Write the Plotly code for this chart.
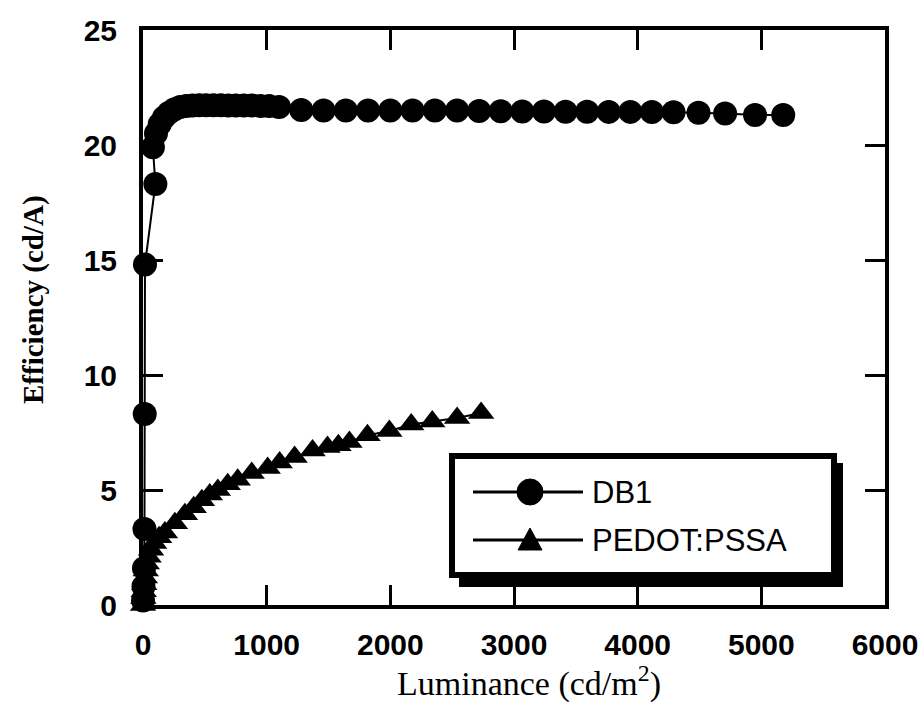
import plotly.graph_objects as go

# ---------------- data ----------------
db1_lum = [0, 4, 8, 12, 14, 16, 100, 80, 105, 135, 170, 210, 255, 300, 350, 400, 455,
           510, 570, 630, 690, 750, 815, 880, 950, 1020, 1100, 1280, 1460, 1640, 1820,
           2000, 2180, 2360, 2540, 2718, 2893, 3067, 3242, 3417, 3591, 3766, 3941, 4115,
           4290, 4492, 4707, 4949, 5177]
db1_eff = [0.2, 0.8, 1.6, 3.3, 8.3, 14.8, 18.3, 19.9, 20.5, 20.9, 21.2, 21.4, 21.55, 21.65,
           21.7, 21.72, 21.73, 21.73, 21.73, 21.73, 21.72, 21.72, 21.72, 21.72, 21.7, 21.7,
           21.65, 21.52, 21.5, 21.5, 21.5, 21.5, 21.5, 21.5, 21.5, 21.48, 21.47, 21.46,
           21.46, 21.45, 21.45, 21.44, 21.44, 21.43, 21.42, 21.4, 21.37, 21.3, 21.3]

pedot_lum = [0, 3, 6, 10, 15, 22, 30, 45, 65, 90, 130, 177, 258, 339, 410, 476, 540, 605,
             685, 766, 879, 1008, 1105, 1226, 1371, 1492, 1580, 1669, 1815, 1992, 2169,
             2339, 2540, 2734]
pedot_eff = [0.0, 0.3, 0.6, 0.9, 1.2, 1.5, 1.8, 2.1, 2.4, 2.7, 2.95, 3.15, 3.55, 3.95,
             4.25, 4.55, 4.8, 5.0, 5.25, 5.45, 5.74, 5.96, 6.2, 6.43, 6.72, 6.87, 6.95,
             7.09, 7.38, 7.57, 7.85, 7.98, 8.13, 8.35]

x_ticks = [0, 1000, 2000, 3000, 4000, 5000, 6000]
y_ticks = [0, 5, 10, 15, 20, 25]
series_names = ["DB1", "PEDOT:PSSA"]
x_title = "Luminance (cd/m<sup>2</sup>)"
y_title = "Efficiency (cd/A)"

# ---------------- figure ----------------
fig = go.Figure()
fig.add_trace(go.Scatter(
    x=db1_lum, y=db1_eff, mode="lines+markers", name=series_names[0],
    line=dict(color="black", width=2),
    marker=dict(symbol="circle", size=24, color="black"),
    cliponaxis=False, showlegend=False))
fig.add_trace(go.Scatter(
    x=pedot_lum, y=pedot_eff, mode="lines+markers", name=series_names[1],
    line=dict(color="black", width=2),
    marker=dict(symbol="triangle-up", size=23, color="black"),
    cliponaxis=False, showlegend=False))

L, R, T, B = 143, 885, 30, 605
W, H = 921, 710


def px(x):
    return (x - L) / (R - L)


def py(y):
    return (B - y) / (B - T)


shapes = []
# legend shadow + box
shapes.append(dict(type="rect", xref="paper", yref="paper", layer="above",
                   x0=px(459), x1=px(843), y0=py(463), y1=py(587),
                   fillcolor="black", line=dict(width=0)))
shapes.append(dict(type="rect", xref="paper", yref="paper", layer="above",
                   x0=px(452), x1=px(834), y0=py(456), y1=py(575),
                   fillcolor="white", line=dict(color="black", width=6)))
# legend lines
for yy in (492, 540):
    shapes.append(dict(type="line", xref="paper", yref="paper", layer="above",
                       x0=px(473), x1=px(583), y0=py(yy), y1=py(yy),
                       line=dict(color="black", width=3)))
# legend circle marker
shapes.append(dict(type="circle", xref="paper", yref="paper", layer="above",
                   x0=px(517), x1=px(543), y0=py(479), y1=py(505),
                   fillcolor="black", line=dict(color="black", width=1)))
# legend triangle marker
tri = "M {},{} L {},{} L {},{} Z".format(px(518), py(550), px(542), py(550), px(530), py(528))
shapes.append(dict(type="path", xref="paper", yref="paper", layer="above", path=tri,
                   fillcolor="black", line=dict(color="black", width=1)))

annotations = []
for name, yy in zip(series_names, (492, 540)):
    annotations.append(dict(text=name, xref="paper", yref="paper", x=px(590), y=py(yy),
                            xanchor="left", yanchor="middle", showarrow=False,
                            font=dict(family="Liberation Sans, Arial", size=31, color="black")))
# axis titles
annotations.append(dict(text=x_title, xref="paper", yref="paper", x=px(529), y=py(681),
                        xanchor="center", yanchor="middle", showarrow=False,
                        font=dict(family="Liberation Serif, Times New Roman", size=34,
                                  color="black")))
annotations.append(dict(text=y_title, xref="paper", yref="paper", x=px(33), y=py(300),
                        xanchor="center", yanchor="middle", showarrow=False, textangle=-90,
                        font=dict(family="Liberation Serif, Times New Roman", size=29,
                                  color="black", weight="bold")))

tickfont = dict(family="Liberation Sans, Arial", size=30, color="black", weight="bold")

fig.update_layout(
    width=W, height=H,
    margin=dict(l=L, r=W - R, t=T, b=H - B),
    paper_bgcolor="white", plot_bgcolor="white",
    shapes=shapes, annotations=annotations,
    xaxis=dict(range=[0, 6000], tickvals=x_ticks, ticktext=[str(v) for v in x_ticks],
               showgrid=False, zeroline=False, showline=True, linecolor="black",
               linewidth=4, mirror="ticks", ticks="inside", ticklen=20, tickwidth=3,
               tickcolor="black", tickfont=tickfont, ticklabelstandoff=10,
               automargin=False),
    yaxis=dict(range=[0, 25], tickvals=y_ticks, ticktext=[str(v) for v in y_ticks],
               showgrid=False, zeroline=False, showline=True, linecolor="black",
               linewidth=4, mirror="ticks", ticks="inside", ticklen=20, tickwidth=3,
               tickcolor="black", tickfont=tickfont, ticklabelstandoff=16,
               automargin=False),
)

fig.write_html("out.html")
